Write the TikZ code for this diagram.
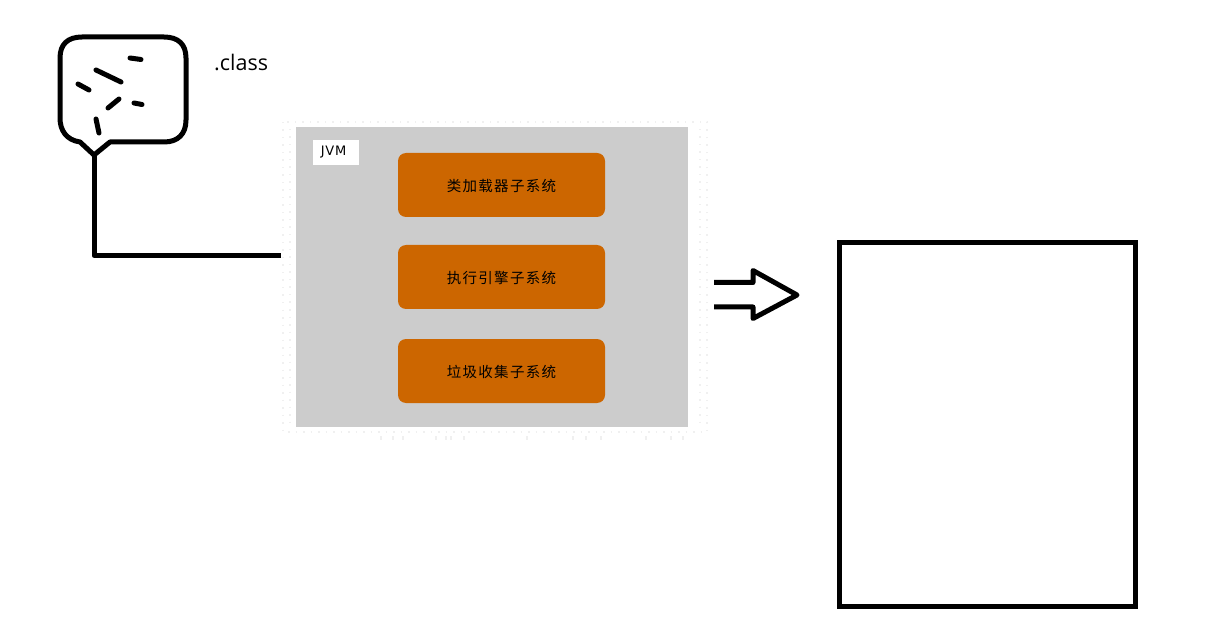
\documentclass[tikz,border=0pt]{standalone}
\usepackage{fontspec}
\setmainfont{Open Sans}
\newfontfamily\cjk[LetterSpace=9]{Noto Sans CJK SC}
\newfontfamily\jvmfont[LetterSpace=6]{DejaVu Sans}
\definecolor{jvmgray}{HTML}{CCCCCC}
\definecolor{sysorange}{HTML}{CC6600}
\definecolor{fainted}{HTML}{F0F0F0}
\tikzset{
  pen/.style={line width=5pt,line join=round,line cap=round},
  dots/.style={fainted,line width=1.5pt,dash pattern=on 1.5pt off 6pt},
  subsys/.style={fill=sysorange,rounded corners=8pt,minimum width=207pt,minimum height=64pt,inner sep=0pt},
}
\begin{document}
\begin{tikzpicture}[x=1pt,y=-1pt]
\useasboundingbox (0,0) rectangle (1219,639);
% jvm frame
\draw[dots] (283,122) rectangle (707,432);
\draw[dots] (290,129) -- (290,425);
\draw[dots] (700,129) -- (700,425);
\foreach \x in {381,393,403,436,446,451,464,527,573,586,601,646,671,683}
  \draw[fainted,line width=1.5pt] (\x,436) -- (\x,440);
\node[fill=jvmgray,minimum width=392pt,minimum height=300pt,inner sep=0pt] (jvm) at (492,277) {};
\node[fill=white,minimum width=46pt,minimum height=25pt,inner sep=0pt] (jvmlabel) at (336,152.5) {\hspace*{-5pt}\raisebox{-.5pt}{\fontsize{13}{13}\selectfont\jvmfont JVM}};
\foreach \name/\y/\txt in {loader/185/类加载器子系统,engine/277/执行引擎子系统,collector/371/垃圾收集子系统}
  \node[subsys,text depth=0pt] (\name) at (501.5,\y) {\raisebox{-1pt}{\fontsize{14.5}{14.5}\selectfont\cjk\txt}};
% class file
\draw[pen] (80,142) .. controls (66,140) and (60,130) .. (60,118) -- (60,58)
  .. controls (60,44) and (68,37) .. (82,37) -- (164,37)
  .. controls (178,37) and (186,44) .. (186,58) -- (186,120)
  .. controls (186,134) and (178,142) .. (164,142) -- (110,142) -- (94,155) -- cycle;
\foreach \xa/\ya/\xb/\yb in {96/70/121/82,130/58/141/59.5,78/84/89/90,108/108/119/99,134/103/142/104.5,96/119/99/133}
  \draw[pen] (\xa,\ya) -- (\xb,\yb);
\node[font=\fontsize{21.5}{21.5}\selectfont,anchor=west,inner sep=0pt] (classname) at (214,62.5) {.class};
\coordinate (tip) at (94,155);
\coordinate (entry) at (281,255.5);
\draw[pen,line cap=butt] (tip) |- (entry);
% machine
\draw[pen,line cap=butt] (714,282.5) -- (753,282.5) -- (753,270.5) -- (797,295) -- (753,318.5) -- (753,307) -- (714,307);
\node[draw,line width=5pt,minimum width=296pt,minimum height=363pt,inner sep=0pt] (machine) at (987,424.5) {};
\end{tikzpicture}
\end{document}
